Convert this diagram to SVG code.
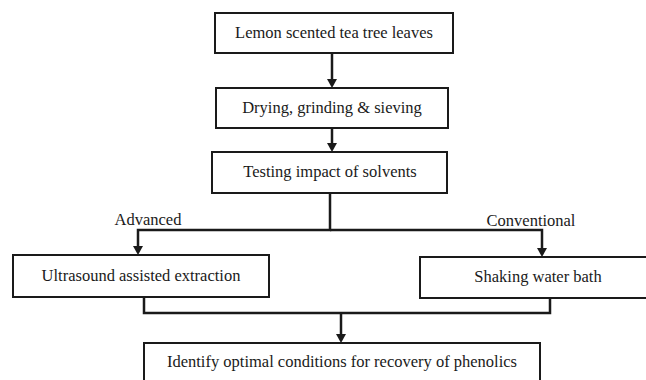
<svg xmlns="http://www.w3.org/2000/svg" width="646" height="380" viewBox="0 0 646 380">
<defs>
<style>
.box{fill:#fff;stroke:#1a1a1a;stroke-width:2}
.t{font-family:'Liberation Serif','Times New Roman',serif;font-size:16.5px;fill:#1a1a1a;text-anchor:middle}
.c{fill:none;stroke:#1a1a1a;stroke-width:2.5}
.a{fill:#1a1a1a}
</style>
</defs>
<rect width="646" height="380" fill="#fff"/>
<g id="connectors">
<line class="c" x1="332" y1="53" x2="332" y2="80"/>
<path class="a" d="M327,79 L337,79 L332,88 Z"/>
<line class="c" x1="332" y1="128" x2="332" y2="144"/>
<path class="a" d="M327,143 L337,143 L332,152 Z"/>
<polyline class="c" points="330,193 330,230 138,230 138,247"/>
<path class="a" d="M133,246 L143,246 L138,255 Z"/>
<polyline class="c" points="330,230 542,230 542,249"/>
<path class="a" d="M537,248 L547,248 L542,257 Z"/>
<polyline class="c" points="144,297 144,313 550,313 550,298"/>
<line class="c" x1="341" y1="313" x2="341" y2="335"/>
<path class="a" d="M336,334 L346,334 L341,343 Z"/>
<text class="t" x="148" y="225">Advanced</text>
<text class="t" x="531" y="226">Conventional</text>
</g>
<g id="n1"><rect class="box" x="215" y="13" width="238" height="40"/><text class="t" x="334" y="38">Lemon scented tea tree leaves</text></g>
<g id="n2"><rect class="box" x="216" y="88" width="232" height="40"/><text class="t" x="332" y="113">Drying, grinding &amp; sieving</text></g>
<g id="n3"><rect class="box" x="212" y="152" width="235" height="41"/><text class="t" x="330" y="177">Testing impact of solvents</text></g>
<g id="n4"><rect class="box" x="13" y="255" width="256" height="42"/><text class="t" x="141" y="281">Ultrasound assisted extraction</text></g>
<g id="n5"><rect class="box" x="420" y="257" width="240" height="41"/><text class="t" x="538" y="282">Shaking water bath</text></g>
<g id="n6"><rect class="box" x="144" y="343" width="396" height="50"/><text class="t" x="342" y="367">Identify optimal conditions for recovery of phenolics</text></g>
</svg>
